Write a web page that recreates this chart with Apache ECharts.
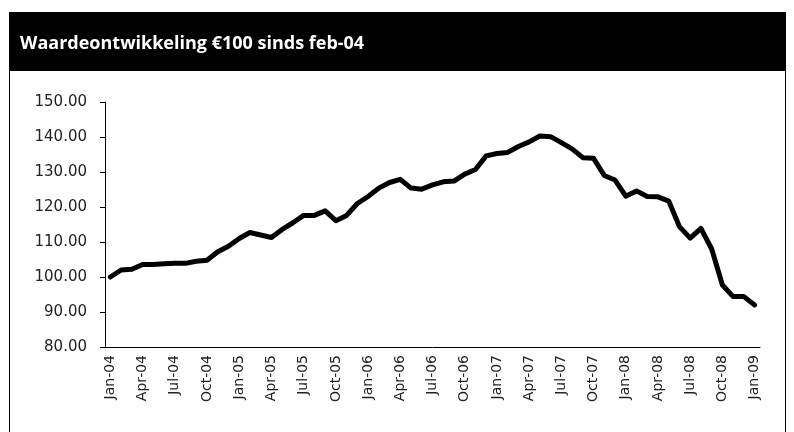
<!DOCTYPE html>
<html>
<head>
<meta charset="utf-8">
<script src="https://cdn.jsdelivr.net/npm/echarts@6/dist/echarts.min.js"></script>
<style>
  html, body { margin: 0; padding: 0; background: #fff; }
  #main { width: 794px; height: 432px; }
</style>
</head>
<body>
<div id="main"></div>
<script>
// maanden jan-04 t/m jan-09
var maanden = ['Jan','Feb','Mar','Apr','May','Jun','Jul','Aug','Sep','Oct','Nov','Dec'];
var categories = [];
for (var y = 4; y <= 9; y++) {
    for (var m = 0; m < 12; m++) {
        if (y === 9 && m > 0) break;
        categories.push(maanden[m] + '-0' + y);
    }
}

// waarde van €100 (gelezen uit de grafiek)
var waarde = [
    100.0, 102.0, 102.2, 103.6, 103.6, 103.8, 103.9, 103.9, 104.5, 104.8, 107.2, 108.8,
    111.0, 112.7, 112.0, 111.3, 113.6, 115.5, 117.6, 117.6, 118.9, 116.1, 117.6, 121.0,
    123.0, 125.4, 127.0, 127.9, 125.4, 125.1, 126.3, 127.2, 127.4, 129.4, 130.7, 134.6,
    135.3, 135.6, 137.3, 138.6, 140.3, 140.1, 138.4, 136.6, 134.1, 133.9, 129.0, 127.7,
    123.1, 124.6, 123.0, 122.9, 121.7, 114.4, 111.1, 113.9, 108.0, 97.7, 94.4, 94.4,
    92.0
];

var yMin = 80, yMax = 150, yStap = 10;

var myChart = echarts.init(document.getElementById('main'));

var option = {
    animation: false,
    backgroundColor: '#fff',
    title: {
        text: 'Waardeontwikkeling €100 sinds feb-04',
        left: 15,
        top: 30,
        textStyle: {
            color: '#fff',
            fontFamily: 'Open Sans',
            fontWeight: 'bold',
            fontSize: 18
        }
    },
    graphic: [
        // zwarte titelbalk
        { type: 'rect', shape: { x: 9, y: 12, width: 777, height: 59 }, style: { fill: '#000' }, z: -1 },
        // kader
        { type: 'line', shape: { x1: 9.5, y1: 12, x2: 9.5, y2: 432 }, style: { stroke: '#000', lineWidth: 1 } },
        { type: 'line', shape: { x1: 785.5, y1: 12, x2: 785.5, y2: 432 }, style: { stroke: '#000', lineWidth: 1 } }
    ],
    grid: {
        left: 105,
        right: 34,
        top: 102,
        bottom: 85
    },
    xAxis: {
        type: 'category',
        data: categories,
        boundaryGap: true,
        axisLine: { lineStyle: { color: '#000', width: 1 } },
        axisTick: { interval: 2, length: 5, lineStyle: { color: '#000' } },
        axisLabel: {
            interval: 2,
            rotate: 90,
            margin: 8,
            color: '#222',
            fontFamily: 'DejaVu Sans',
            fontSize: 14
        },
        splitLine: { show: false }
    },
    yAxis: {
        type: 'value',
        min: yMin,
        max: yMax,
        interval: yStap,
        axisLine: { show: true, lineStyle: { color: '#000', width: 1 } },
        axisTick: { show: true, length: 5, lineStyle: { color: '#000' } },
        axisLabel: {
            margin: 18,
            color: '#222',
            fontFamily: 'DejaVu Sans',
            fontSize: 15,
            formatter: function (v) { return v.toFixed(2); }
        },
        splitLine: { show: false }
    },
    series: [
        {
            type: 'line',
            data: waarde,
            showSymbol: false,
            symbol: 'none',
            lineStyle: { color: '#000', width: 5, join: 'round', cap: 'round' }
        }
    ]
};

myChart.setOption(option);
</script>
</body>
</html>
